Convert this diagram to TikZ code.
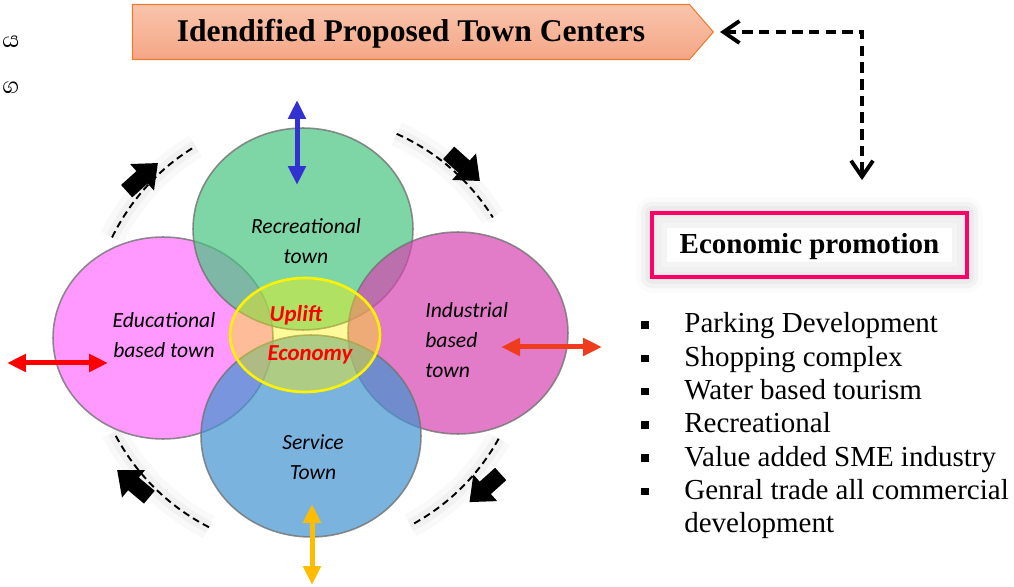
\documentclass[tikz,border=0pt]{standalone}
\usepackage{fontspec}
\setmainfont{Liberation Serif}
\newfontfamily\calfont{Carlito}
\newfontfamily\sinfont[Script=Sinhala]{Abhaya Libre}
\usetikzlibrary{arrows.meta,positioning,calc,shapes.geometric,shapes.arrows,shapes.symbols,shadows.blur}

\definecolor{recgreen}{RGB}{71,196,128}
\definecolor{edupink}{RGB}{255,109,255}
\definecolor{indmag}{RGB}{214,68,177}
\definecolor{serblue}{RGB}{65,148,208}
\definecolor{bantop}{RGB}{249,196,172}
\definecolor{banbot}{RGB}{244,166,134}
\definecolor{banline}{RGB}{237,125,49}
\definecolor{promred}{RGB}{255,0,102}
\definecolor{arrred}{RGB}{240,60,30}
\definecolor{arrgold}{RGB}{255,188,0}
\definecolor{arrblue}{RGB}{50,50,210}
\newcommand\bul{\makebox[24.5pt][l]{\rule[2.4pt]{4.3pt}{4.3pt}}}

\begin{document}
\begin{tikzpicture}[x=0.02cm,y=-0.02cm,
  town/.style={ellipse,draw=black!55,draw opacity=0.8,line width=0.9pt,fill=#1,fill opacity=0.7,minimum width=4.4cm,minimum height=4.04cm},
  lbl/.style={font=\calfont\itshape\fontsize{12.3}{17}\selectfont,align=center,inner sep=0pt},
  hubtxt/.style={font=\calfont\bfseries\itshape\fontsize{13}{15}\selectfont,text=red,inner sep=0pt},
  banner/.style={signal,signal to=east,signal pointer angle=98,draw=banline,line width=0.6pt,top color=bantop,bottom color=banbot,minimum width=11.62cm,minimum height=1.1cm,text height=13pt,text depth=2pt,font=\bfseries\fontsize{18}{20}\selectfont},
  promo/.style={draw=promred,line width=2.2pt,fill=white,minimum width=6.3cm,minimum height=1.28cm,text height=12pt,text depth=2pt,font=\bfseries\fontsize{16.5}{19}\selectfont,
    blur shadow={shadow xshift=0pt,shadow yshift=0pt,shadow blur radius=9pt,shadow opacity=25},
    path picture={\draw[gray!9,line width=0.6cm] (path picture bounding box.south west) rectangle (path picture bounding box.north east);
      \draw[gray!12,line width=0.4cm] (path picture bounding box.south west) rectangle (path picture bounding box.north east);
      \draw[gray!15,line width=0.2cm] (path picture bounding box.south west) rectangle (path picture bounding box.north east);}},
  item/.style={anchor=base west,inner sep=0pt,font=\fontsize{16.5}{19}\selectfont},
  dbl/.style={{Triangle[length=0.38cm,width=0.34cm]}-{Triangle[length=0.38cm,width=0.34cm]},line width=0.1cm,draw=#1},
  cyc/.style={dash pattern=on 4pt off 2.5pt,line width=1.1pt,
    preaction={draw=black,solid,opacity=0.025,line width=0.5cm},
    preaction={draw=black,solid,opacity=0.03,line width=0.25cm}},
  blk/.style={single arrow,fill=black,inner xsep=0pt,inner ysep=0.16cm,single arrow head extend=0.19cm,single arrow tip angle=80,minimum height=0.84cm,rotate=#1},
  dasharr/.style={{Straight Barb[length=0.32cm,width=0.44cm]}-{Straight Barb[length=0.32cm,width=0.44cm]},line width=2.2pt,dash pattern=on 6pt off 3.5pt}]
\useasboundingbox (0,0) rectangle (1014,587);
% glyphs at the left margin
\node[anchor=base west,inner sep=0pt,font=\sinfont\fontsize{16}{18}\selectfont] (sya) at (2,48) {ය};
\node[anchor=base west,inner sep=0pt,font=\sinfont\fontsize{16}{18}\selectfont] (sga) at (2,94) {ග};
% cycle around the towns
\coordinate (ctr) at (308,333);
\coordinate (tla) at ($(ctr)+(-154:218)$);
\coordinate (tra) at ($(ctr)+(-66:218)$);
\coordinate (bra) at ($(ctr)+(29:218)$);
\coordinate (bla) at ($(ctr)+(117:218)$);
\draw[cyc] (tla) arc[start angle=-154,end angle=-121,radius=218];
\draw[cyc] (tra) arc[start angle=-66,end angle=-32,radius=218];
\draw[cyc] (bra) arc[start angle=29,end angle=62,radius=218];
\draw[cyc] (bla) arc[start angle=117,end angle=153,radius=218];
\node[blk=42] (tlh) at ($(ctr)+(-138:228)$) {};
\node[blk=-42] (trh) at ($(ctr)+(-48:228)$) {};
\node[blk=-138] (brh) at ($(ctr)+(40:236)$) {};
\node[blk=140] (blh) at ($(ctr)+(138:230)$) {};
% the four towns
\node[town=edupink] (edu) at (163,338) {};
\node[town=recgreen] (rec) at (303,229) {};
\node[town=indmag] (ind) at (458,333) {};
\node[town=serblue] (ser) at (311,436) {};
\node[ellipse,draw=yellow,line width=1.5pt,fill=yellow,fill opacity=0.4,minimum width=3cm,minimum height=2.28cm] (hub) at (305,335) {};
\node[lbl] (recl) at (306,241) {Recreational\\town};
\node[lbl] (edul) at (164,335) {Educational\\based town};
\node[lbl,align=left,anchor=west] (indl) at (425,340) {Industrial\\based\\town};
\node[lbl] (serl) at (313,457) {Service\\Town};
\node[hubtxt] (upl) at (296,315) {Uplift};
\node[hubtxt] (eco) at (310,355) {Economy};
% outward arrows
\coordinate (bn) at (297,100); \coordinate (bs) at (297,185);
\coordinate (gn) at (312,504); \coordinate (gs) at (312,585);
\coordinate (lw) at (7,363); \coordinate (le) at (108,363);
\coordinate (rw) at (501,347); \coordinate (re) at (602,347);
\draw[dbl=arrblue] (bn) -- (bs);
\draw[dbl=arrgold] (gn) -- (gs);
\draw[dbl=red] (lw) -- (le);
\draw[dbl=arrred] (rw) -- (re);
% title and promotion
\node[banner] (title) at (411,32) {Idendified Proposed Town Centers};
\node[promo] (econ) at (809.5,245) {Economic promotion};
\coordinate (bend) at (862,32);
\draw[dasharr,shorten <=0.12cm,shorten >=0.62cm] (title.east) -- (bend) -- (bend |- econ.north);
\node[item] (pk) at (641,333) {\bul Parking Development};
\node[item] (shp) at (641,366.3) {\bul Shopping complex};
\node[item] (wat) at (641,399.6) {\bul Water based tourism};
\node[item] (rcr) at (641,432.9) {\bul Recreational};
\node[item] (sme) at (641,466.2) {\bul Value added SME industry};
\node[item] (gen) at (641,499.5) {\bul Genral trade all commercial};
\node[item] (dev) at (684,532.8) {development};
\end{tikzpicture}
\end{document}
